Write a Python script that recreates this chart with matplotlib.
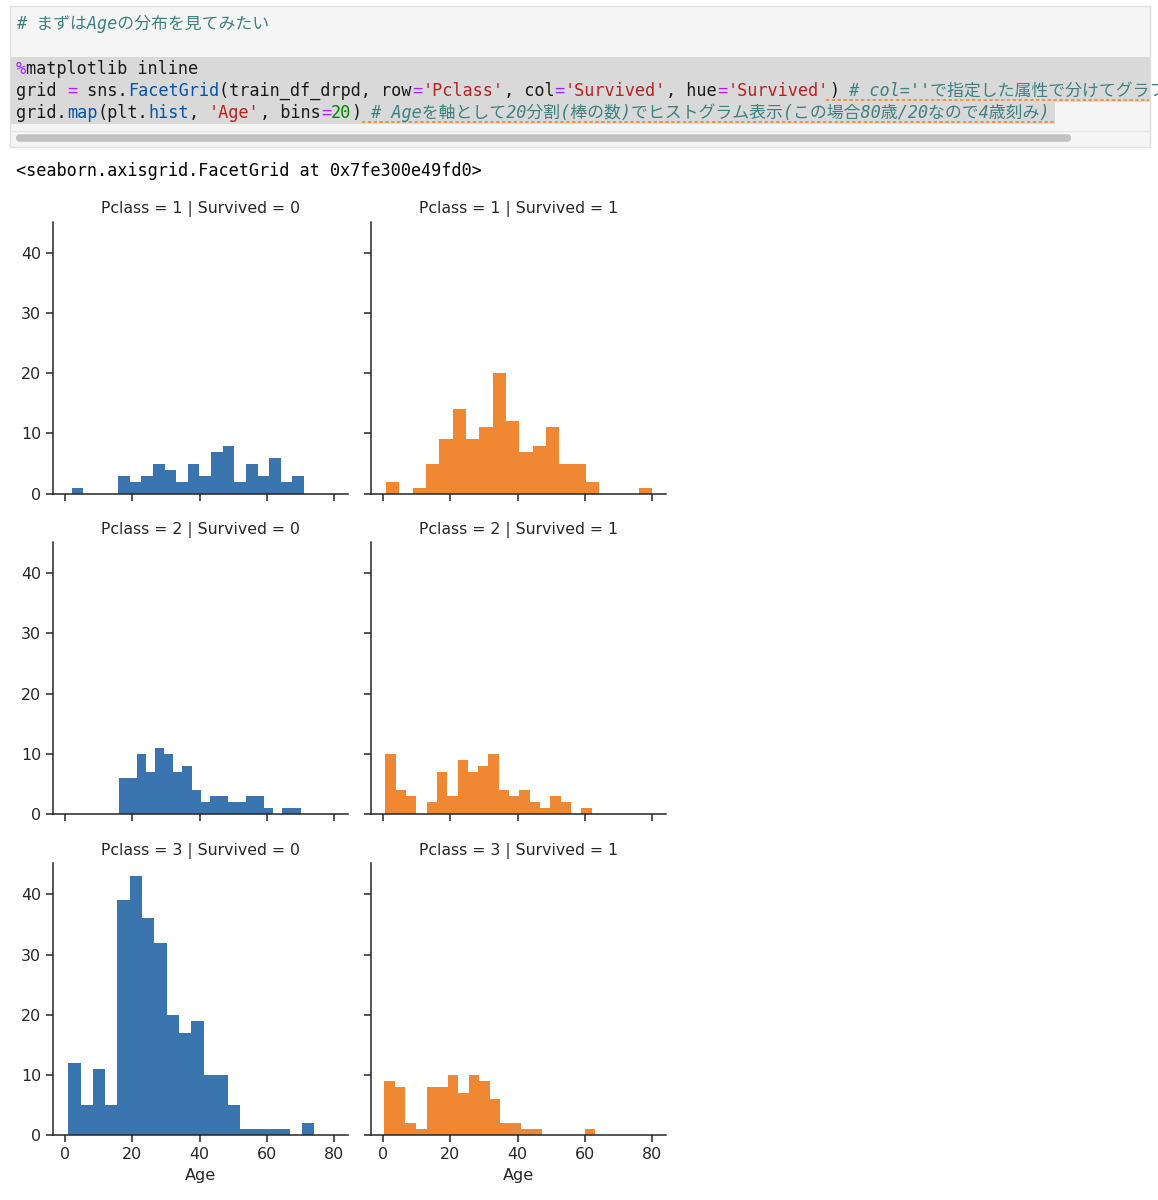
import numpy as np
import matplotlib
matplotlib.use("Agg")
import matplotlib.pyplot as plt
from matplotlib.patches import Rectangle, FancyBboxPatch

# ---------------- data ----------------
pclasses = [1, 2, 3]
survived_vals = [0, 1]
n_bins = 20

# per-facet age range (plt.hist builds 20 bins from min..max of each subset)
age_min_s0 = [2.0, 16.0, 1.0]
age_max_s0 = [71.0, 70.0, 74.0]
age_min_s1 = [0.92, 0.67, 0.42]
age_max_s1 = [80.0, 62.0, 63.0]

counts_p1_s0 = [1, 0, 0, 0, 3, 2, 3, 5, 4, 2, 5, 3, 7, 8, 2, 5, 3, 6, 2, 3]
counts_p1_s1 = [2, 0, 1, 5, 9, 14, 9, 11, 20, 12, 7, 8, 11, 5, 5, 2, 0, 0, 0, 1]
counts_p2_s0 = [6, 6, 10, 7, 11, 10, 7, 8, 4, 2, 3, 3, 2, 2, 3, 3, 1, 0, 1, 1]
counts_p2_s1 = [10, 4, 3, 0, 2, 7, 3, 9, 7, 8, 10, 4, 3, 4, 2, 1, 3, 2, 0, 1]
counts_p3_s0 = [12, 5, 11, 5, 39, 43, 36, 32, 20, 17, 19, 10, 10, 5, 1, 1, 1, 1, 0, 2]
counts_p3_s1 = [9, 8, 2, 1, 8, 8, 10, 7, 10, 9, 6, 2, 2, 1, 1, 0, 0, 0, 0, 1]

counts = {
    (1, 0): counts_p1_s0, (1, 1): counts_p1_s1,
    (2, 0): counts_p2_s0, (2, 1): counts_p2_s1,
    (3, 0): counts_p3_s0, (3, 1): counts_p3_s1,
}
ranges = {}
for i, p in enumerate(pclasses):
    ranges[(p, 0)] = (age_min_s0[i], age_max_s0[i])
    ranges[(p, 1)] = (age_min_s1[i], age_max_s1[i])

hue_colors = ["#3a75af", "#ef8733"]

# ---------------- figure ----------------
W, H = 1158, 1200
fig = plt.figure(figsize=(W / 100, H / 100), dpi=100)
fig.patch.set_facecolor("white")

# overlay for the notebook chrome, in pixel coordinates
bg = fig.add_axes([0, 0, 1, 1])
bg.set_xlim(0, W)
bg.set_ylim(H, 0)
bg.axis("off")
bg.set_zorder(-10)
bg.patch.set_visible(False)

# code cell
cell = Rectangle((10, 6), 1140, 141, facecolor="#f5f5f5", edgecolor="#e0e0e0", lw=1)
bg.add_patch(cell)
bg.add_patch(Rectangle((11, 56.7), 1139, 45.5, facecolor="#d9d9d9", edgecolor="none"))
bg.add_patch(Rectangle((11, 102), 1044, 22, facecolor="#d9d9d9", edgecolor="none"))
bg.plot([11, 1150], [131, 131], color="#e6e6e6", lw=1)
bg.add_patch(FancyBboxPatch((16, 134.3), 1055, 7.4,
                            boxstyle="round,pad=0,rounding_size=3.7",
                            facecolor="#c1c1c1", edgecolor="none"))

MONO = "DejaVu Sans Mono"
FS = 12.15
CW = FS * 100 / 72 * 0.6021  # char advance in px
C_TXT = "#1a1a1a"
C_OP = "#aa22ff"
C_PROP = "#0055aa"
C_STR = "#ba2121"
C_NUM = "#008800"
C_COM = "#408080"
X0 = 16


def code_line(y, segments, comment=None, underline=None):
    x = X0
    for txt, col in segments:
        bg.text(x, y, txt, family=MONO, fontsize=FS, color=col,
                va="baseline", ha="left")
        x += len(txt) * CW
    if comment is not None:
        t = bg.text(x, y, comment, family=[MONO, "Noto Sans CJK JP"],
                    fontsize=FS, color=C_COM, style="italic",
                    va="baseline", ha="left")
        t.set_clip_path(cell)
    if underline is not None:
        bg.plot(underline, [y + 3.5, y + 3.5], color="#f08a24", lw=1.2,
                ls=(0, (2, 1.5)))


code_line(29, [], comment="# まずはAgeの分布を見てみたい")
code_line(74, [("%", C_OP), ("matplotlib inline", C_TXT)])
code_line(96, [("grid ", C_TXT), ("=", C_OP), (" sns.", C_TXT), ("FacetGrid", C_PROP),
               ("(train_df_drpd, row", C_TXT), ("=", C_OP), ("'Pclass'", C_STR),
               (", col", C_TXT), ("=", C_OP), ("'Survived'", C_STR),
               (", hue", C_TXT), ("=", C_OP), ("'Survived'", C_STR), (")", C_TXT)],
          comment=" # col=''で指定した属性で分けてグラフ化", underline=[826, 1149])
code_line(118, [("grid.", C_TXT), ("map", C_PROP), ("(plt.", C_TXT), ("hist", C_PROP),
                (", ", C_TXT), ("'Age'", C_STR), (", bins", C_TXT), ("=", C_OP),
                ("20", C_NUM), (")", C_TXT)],
          comment=" # Ageを軸として20分割(棒の数)でヒストグラム表示(この場合80歳/20なので4歳刻み)",
          underline=[362, 1055])

bg.text(X0, 176, "<seaborn.axisgrid.FacetGrid at 0x7fe300e49fd0>", family=MONO,
        fontsize=FS, color="#000000", va="baseline", ha="left")

# ---------------- facet grid ----------------
col_left = [53.0, 371.0]
ax_w = 294.7
row_bottom = [493.7, 814.0, 1135.3]
ax_h = 272.0

TICK_FS = 11.4
LABEL_FS = 11.6
TITLE_FS = 11.3
TXT_COL = "#262626"

axes = {}
first = None
for r, p in enumerate(pclasses):
    for c, s in enumerate(survived_vals):
        rect = [col_left[c] / W, 1 - row_bottom[r] / H, ax_w / W, ax_h / H]
        if first is None:
            ax = fig.add_axes(rect)
            first = ax
        else:
            ax = fig.add_axes(rect, sharex=first, sharey=first)
        axes[(p, s)] = ax
        lo, hi = ranges[(p, s)]
        edges = np.linspace(lo, hi, n_bins + 1)
        ax.hist(edges[:-1], bins=edges, weights=counts[(p, s)],
                color=hue_colors[c], edgecolor="none", linewidth=0)
        ax.set_title(f"Pclass = {p} | Survived = {s}", fontsize=TITLE_FS,
                     color=TXT_COL)
        ax.spines["top"].set_visible(False)
        ax.spines["right"].set_visible(False)
        for sp in ("left", "bottom"):
            ax.spines[sp].set_linewidth(1.1)
            ax.spines[sp].set_color(TXT_COL)
        ax.tick_params(labelsize=TICK_FS, colors=TXT_COL, length=5, width=1.1)
        if c == 1:
            ax.tick_params(labelleft=False)
        if r < 2:
            ax.tick_params(labelbottom=False)
        else:
            ax.set_xlabel("Age", fontsize=LABEL_FS, color=TXT_COL)

first.set_xticks([0, 20, 40, 60, 80])
first.set_yticks([0, 10, 20, 30, 40])

fig.savefig("out.png", dpi=100, facecolor="white")
